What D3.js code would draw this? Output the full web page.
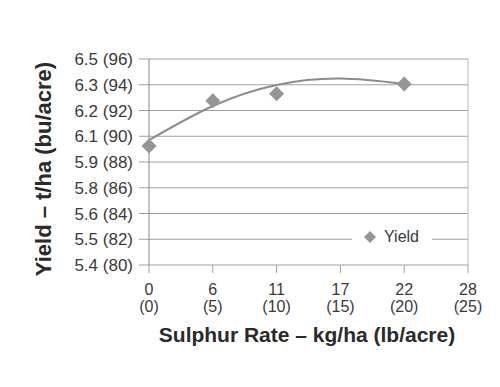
<!DOCTYPE html>
<html>
<head>
<meta charset="utf-8" />
<style>
  body { margin: 0; background: #fff; }
  svg { display: block; font-family: "Liberation Sans", Arial, sans-serif; }
</style>
</head>
<body>
<script src="https://cdn.jsdelivr.net/npm/d3@7"></script>
<script>
// x positions are in lb/acre; labels show kg/ha with lb/acre below
const xTicks = [0, 5, 10, 15, 20, 25];
const xKg = ["0", "6", "11", "17", "22", "28"];
const xLb = ["(0)", "(5)", "(10)", "(15)", "(20)", "(25)"];

// y in bu/acre; label shows t/ha (bu/acre)
const yTicks = [80, 82, 84, 86, 88, 90, 92, 94, 96];
const yLabels = ["5.4 (80)", "5.5 (82)", "5.6 (84)", "5.8 (86)", "5.9 (88)",
                 "6.1 (90)", "6.2 (92)", "6.3 (94)", "6.5 (96)"];

// observed yield (bu/acre) at each sulphur rate (lb/acre)
const rates = [0, 5, 10, 20];
const yields = [89.25, 92.75, 93.3, 94.05];

// polynomial trendline
const trendX = [0, 5, 10, 15, 20];
const trendY = [89.7, 92.35, 93.98, 94.48, 94.06];

const W = 500, H = 387;
const margin = { left: 149, right: 32, top: 59, bottom: 122 };

const svg = d3.select("body").append("svg")
  .attr("width", W).attr("height", H);

const x = d3.scaleLinear().domain([0, 25]).range([margin.left, W - margin.right]);
const y = d3.scaleLinear().domain([80, 96]).range([H - margin.bottom, margin.top]);

const gridCol = "#a0a0a0";
const textCol = "#3a3a3a";

// horizontal gridlines (extend left past the axis as tick marks)
svg.append("g")
  .selectAll("line")
  .data(yTicks)
  .join("line")
  .attr("x1", x(0) - 10)
  .attr("x2", x(25))
  .attr("y1", d => y(d))
  .attr("y2", d => y(d))
  .attr("stroke", gridCol)
  .attr("stroke-width", 1);

// right border
svg.append("line")
  .attr("x1", x(25)).attr("x2", x(25))
  .attr("y1", y(96)).attr("y2", y(80))
  .attr("stroke", "#b8b8b8");

// x tick marks
svg.append("g")
  .selectAll("line")
  .data(xTicks)
  .join("line")
  .attr("x1", d => x(d)).attr("x2", d => x(d))
  .attr("y1", y(80)).attr("y2", y(80) + 8)
  .attr("stroke", gridCol);

// y axis line
svg.append("line")
  .attr("x1", x(0)).attr("x2", x(0))
  .attr("y1", y(96)).attr("y2", y(80))
  .attr("stroke", "#888");

// y tick labels
svg.append("g")
  .selectAll("text")
  .data(yTicks)
  .join("text")
  .attr("x", x(0) - 16)
  .attr("y", d => y(d))
  .attr("dy", "0.36em")
  .attr("text-anchor", "end")
  .attr("font-size", 17)
  .attr("fill", textCol)
  .text((d, i) => yLabels[i]);

// x tick labels, two lines
const xl = svg.append("g")
  .selectAll("text")
  .data(xTicks)
  .join("text")
  .attr("text-anchor", "middle")
  .attr("font-size", 16)
  .attr("fill", textCol);
xl.append("tspan").attr("x", d => x(d)).attr("y", y(80) + 30).text((d, i) => xKg[i]);
xl.append("tspan").attr("x", d => x(d)).attr("y", y(80) + 47).text((d, i) => xLb[i]);

// trendline
svg.append("path")
  .datum(trendX.map((d, i) => [d, trendY[i]]))
  .attr("fill", "none")
  .attr("stroke", "#8c8c8c")
  .attr("stroke-width", 2)
  .attr("d", d3.line().x(d => x(d[0])).y(d => y(d[1])).curve(d3.curveNatural));

// diamond markers
const diamond = d3.symbol(d3.symbolSquare, 112);
svg.append("g")
  .selectAll("path")
  .data(rates)
  .join("path")
  .attr("d", diamond)
  .attr("transform", (d, i) => `translate(${x(d)},${y(yields[i])}) rotate(45)`)
  .attr("fill", "#959595");

// legend
const leg = svg.append("g");
leg.append("rect")
  .attr("x", 352).attr("y", 228).attr("width", 80).attr("height", 22)
  .attr("fill", "#fff");
leg.append("path")
  .attr("d", d3.symbol(d3.symbolSquare, 72))
  .attr("transform", "translate(370,237) rotate(45)")
  .attr("fill", "#959595");
leg.append("text")
  .attr("x", 384).attr("y", 242)
  .attr("font-size", 16)
  .attr("fill", textCol)
  .text("Yield");

// axis titles
svg.append("text")
  .attr("x", 307).attr("y", 342)
  .attr("text-anchor", "middle")
  .attr("font-size", 21)
  .attr("font-weight", "bold")
  .attr("fill", "#2a2a2a")
  .text("Sulphur Rate – kg/ha (lb/acre)");

svg.append("text")
  .attr("transform", "translate(51,169) rotate(-90)")
  .attr("text-anchor", "middle")
  .attr("font-size", 22)
  .attr("font-weight", "bold")
  .attr("fill", "#2a2a2a")
  .text("Yield – t/ha (bu/acre)");
</script>
</body>
</html>
